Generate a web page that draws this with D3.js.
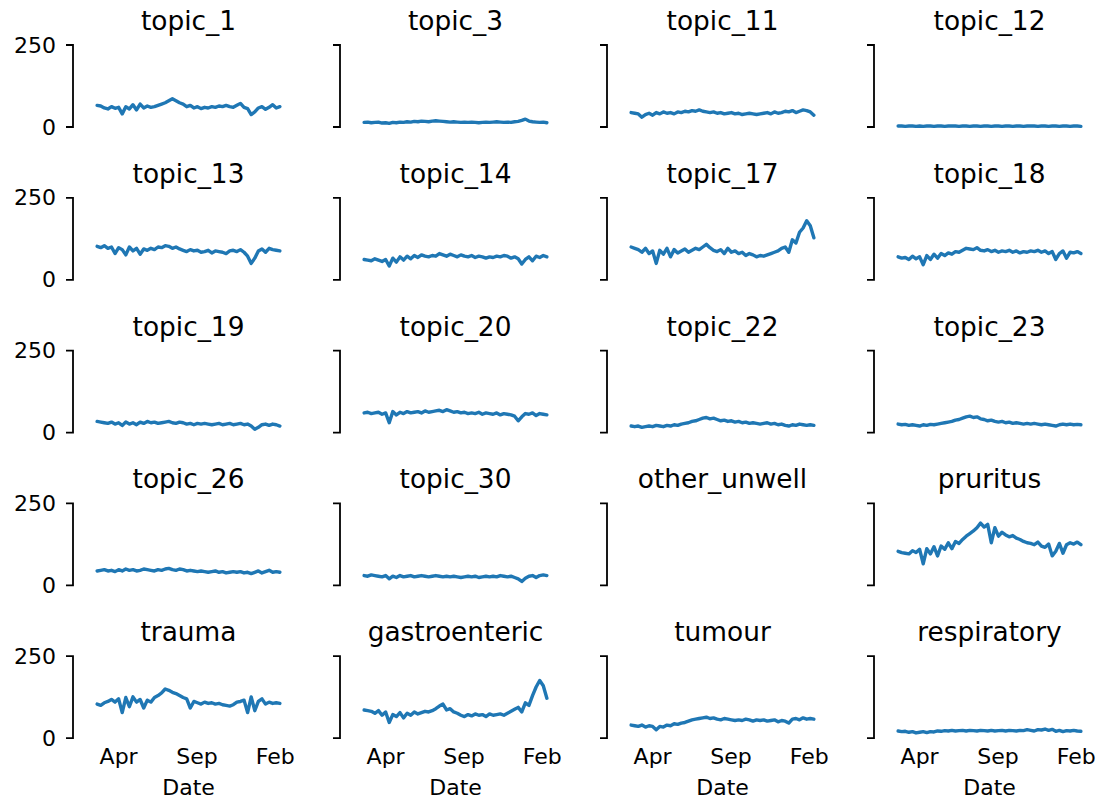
<!DOCTYPE html>
<html>
<head>
<meta charset="utf-8">
<script src="https://cdn.jsdelivr.net/npm/d3@7"></script>
<style>
  html, body { margin: 0; padding: 0; background: #fff; }
  svg text { font-family: "DejaVu Sans", sans-serif; fill: #000; }
</style>
</head>
<body>
<svg id="chart" width="1113" height="801"></svg>
<script>
// Weekly counts per topic, first week starting 2020-02-20
const startDate = new Date(2020, 1, 20);
const stepDays = 7;

const panelNames = [
  "topic_1", "topic_3", "topic_11", "topic_12",
  "topic_13", "topic_14", "topic_17", "topic_18",
  "topic_19", "topic_20", "topic_22", "topic_23",
  "topic_26", "topic_30", "other_unwell", "pruritus",
  "trauma", "gastroenteric", "tumour", "respiratory"
];

const topic_1 = [66,64,58,55,62,57,60,40,62,55, 68,52,70,58,64,60,62,66,70,74, 80,86,80,74,70,62,66,58,62,56, 60,58,62,60,64,62,66,62,60,66, 72,60,56,38,46,58,62,54,60,68, 58,62];
const topic_3 = [14,15,13,14,15,12,13,11,14,13, 15,14,16,15,17,16,18,17,16,18, 19,18,17,16,15,16,15,14,15,14, 15,14,13,14,15,14,15,16,15,14, 15,14,16,17,20,24,18,16,15,14, 15,13];
const topic_11 = [44,42,40,30,38,42,36,44,40,46, 42,44,40,46,44,48,46,50,48,52, 48,46,44,46,42,44,40,42,44,40, 42,38,40,42,40,38,40,42,44,40, 46,42,44,48,46,50,44,48,52,50, 46,36];
const topic_12 = [3,3,2,3,3,2,3,2,3,3, 2,3,3,2,3,3,3,2,3,3, 2,3,3,2,3,3,2,3,3,2, 3,3,2,3,3,2,3,3,3,2, 3,3,2,3,3,2,3,3,2,3, 3,2];
const topic_13 = [102,98,104,96,100,80,98,92,76,100, 88,96,78,94,90,96,92,100,98,104, 102,96,100,94,90,86,92,88,90,84, 86,90,82,88,86,84,80,88,90,86, 92,84,72,50,66,88,94,84,96,92, 90,88];
const topic_14 = [62,60,58,64,60,56,62,42,66,54, 70,60,72,64,74,68,76,72,70,74, 72,80,76,72,78,74,70,76,72,70, 74,68,72,70,66,70,68,72,70,74, 72,66,70,64,48,62,70,58,72,68, 74,70];
const topic_17 = [100,96,92,84,96,80,88,50,90,78, 96,70,92,82,88,94,84,90,96,92, 100,108,98,90,86,92,80,96,84,88, 80,84,74,80,76,70,74,72,76,80, 84,88,96,100,84,122,112,145,158,180, 165,128];
const topic_18 = [70,66,68,62,72,64,70,46,74,62, 78,66,80,74,82,78,86,84,90,96, 94,92,98,90,88,92,86,90,84,88, 86,90,84,88,82,86,84,88,86,90, 84,88,80,86,62,80,88,66,84,82, 86,80];
const topic_19 = [34,32,30,28,32,26,30,22,32,26, 30,24,32,28,34,30,32,28,30,32, 34,30,28,32,30,26,28,24,28,26, 28,26,24,26,28,24,26,28,24,26, 28,24,26,20,10,16,24,26,22,26, 24,20];
const topic_20 = [60,62,58,60,62,56,60,30,64,54, 62,58,64,60,62,64,60,66,62,64, 66,68,64,70,66,62,64,60,62,58, 60,58,62,56,60,58,56,60,54,58, 56,54,50,36,48,58,56,60,52,58, 56,54];
const topic_22 = [20,18,20,16,18,20,18,22,20,18, 22,20,24,22,26,28,30,34,36,40, 44,46,42,44,40,36,38,34,36,32, 34,30,32,28,30,28,26,28,30,26, 28,24,26,22,20,24,22,26,24,22, 24,22];
const topic_23 = [26,24,25,22,24,22,20,24,22,25, 24,26,28,30,32,34,38,40,44,48, 50,46,48,42,40,36,38,34,32,34, 30,32,28,30,28,26,28,26,28,26, 24,26,24,22,20,24,26,24,26,24, 25,24];
const topic_26 = [44,46,48,44,46,42,48,44,50,46, 48,44,46,50,48,46,44,48,46,50, 52,48,46,50,48,44,46,44,42,44, 42,40,42,44,40,42,38,40,42,40, 42,38,40,36,40,44,38,42,46,40, 42,40];
const topic_30 = [30,28,32,30,28,26,30,20,28,24, 30,26,28,30,26,28,30,28,26,28, 30,28,26,28,26,28,26,24,26,28, 26,28,24,26,28,26,28,26,30,28, 26,28,24,20,12,22,28,30,24,30, 32,30];
const other_unwell = [];
const pruritus = [104,100,98,96,106,100,110,66,112,96, 118,90,120,110,130,112,134,128,140,150, 158,166,176,190,178,186,130,176,150,162, 154,148,152,144,140,134,130,128,124,132, 120,116,126,90,104,128,98,124,130,126, 132,124];
const trauma = [104,100,108,112,118,110,120,78,124,96, 126,110,118,92,116,110,124,130,138,150, 146,140,136,130,124,120,92,112,108,104, 110,106,108,104,106,102,100,98,102,110, 112,116,78,126,84,112,120,104,110,106, 108,106];
const gastroenteric = [86,84,82,76,84,70,80,48,72,66, 78,62,76,70,80,74,78,82,80,84, 90,98,104,86,90,80,76,70,66,72, 68,74,70,72,66,74,70,72,74,70, 76,82,88,94,80,108,100,130,156,176, 160,122];
const tumour = [40,38,36,40,34,38,36,26,36,34, 40,38,44,42,46,48,52,56,58,60, 62,64,60,62,58,56,60,58,56,54, 56,54,58,56,52,56,54,56,52,54, 56,50,54,52,46,58,60,56,62,58, 60,58];
const respiratory = [22,20,21,18,20,16,18,20,17,20, 19,22,21,23,22,24,22,23,24,22, 24,23,22,24,23,22,24,22,23,24, 22,24,23,22,24,23,26,24,22,26, 25,28,24,27,21,24,20,23,22,24, 22,21];

const panelValues = [
  topic_1, topic_3, topic_11, topic_12,
  topic_13, topic_14, topic_17, topic_18,
  topic_19, topic_20, topic_22, topic_23,
  topic_26, topic_30, other_unwell, pruritus,
  trauma, gastroenteric, tumour, respiratory
];

const yTicks = [0, 250];
const xTickDates = [new Date(2020, 3, 1), new Date(2020, 8, 1), new Date(2021, 1, 1)];
const xTickLabels = ["Apr", "Sep", "Feb"];
const xLabel = "Date";

// ---- layout ----
const nCols = 4, nRows = 5;
const colStep = 267, rowStep = 152.8;
const plotLeft0 = 88, plotWidth = 201;
const spineOffset = 15;
const zeroY0 = 127, yPixPer250 = 82;
const baseFont = 22, titleFont = 26.4;
const lineColor = "#1f77b4";

const toDate = i => d3.timeDay.offset(startDate, i * stepDays);
const nWeeks = topic_1.length;
const dataStart = toDate(0), dataEnd = toDate(nWeeks - 1);
const span = dataEnd - dataStart;
const pad = span * 0.05;

const svg = d3.select("#chart");

panelNames.forEach((name, k) => {
  const col = k % nCols, row = Math.floor(k / nCols);
  const left = plotLeft0 + col * colStep;
  const zeroY = zeroY0 + row * rowStep;

  const x = d3.scaleTime()
    .domain([new Date(+dataStart - pad), new Date(+dataEnd + pad)])
    .range([left, left + plotWidth]);
  const y = d3.scaleLinear()
    .domain([0, 250])
    .range([zeroY, zeroY - yPixPer250]);

  const g = svg.append("g");

  // title
  g.append("text")
    .attr("x", left + plotWidth / 2)
    .attr("y", zeroY - 97)
    .attr("text-anchor", "middle")
    .style("font-size", titleFont + "px")
    .text(name);

  // offset, trimmed y axis
  const yAxis = d3.axisLeft(y)
    .tickValues(yTicks)
    .tickSize(7)
    .tickPadding(10)
    .tickFormat(col === 0 ? d3.format("d") : () => "");
  const ya = g.append("g")
    .attr("transform", `translate(${left - spineOffset},0)`)
    .call(yAxis);
  ya.select(".domain")
    .attr("d", `M-7,${y(250)}H0V${y(0)}H-7`)
    .attr("stroke", "#000")
    .attr("stroke-width", 1.8)
    .attr("fill", "none");
  ya.selectAll(".tick line").remove();
  ya.selectAll(".tick text")
    .style("font-size", baseFont + "px")
    .attr("fill", "#000");

  // x tick labels on the bottom row only
  if (row === nRows - 1) {
    const xAxis = d3.axisBottom(x)
      .tickValues(xTickDates)
      .tickSize(0)
      .tickPadding(0)
      .tickFormat((d, i) => xTickLabels[i]);
    const xa = g.append("g")
      .attr("transform", `translate(0,${zeroY})`)
      .call(xAxis);
    xa.select(".domain").remove();
    xa.selectAll(".tick text")
      .attr("dy", null)
      .attr("y", 26)
      .style("font-size", baseFont + "px")
      .attr("fill", "#000");

    g.append("text")
      .attr("x", left + plotWidth / 2)
      .attr("y", zeroY + 57)
      .attr("text-anchor", "middle")
      .style("font-size", baseFont + "px")
      .text(xLabel);
  }

  // series line
  const vals = panelValues[k];
  if (vals.length) {
    const line = d3.line()
      .x((d, i) => x(toDate(i)))
      .y(d => y(d));
    g.append("path")
      .datum(vals)
      .attr("d", line)
      .attr("fill", "none")
      .attr("stroke", lineColor)
      .attr("stroke-width", 3.4)
      .attr("stroke-linejoin", "round")
      .attr("stroke-linecap", "round");
  }
});
</script>
</body>
</html>
